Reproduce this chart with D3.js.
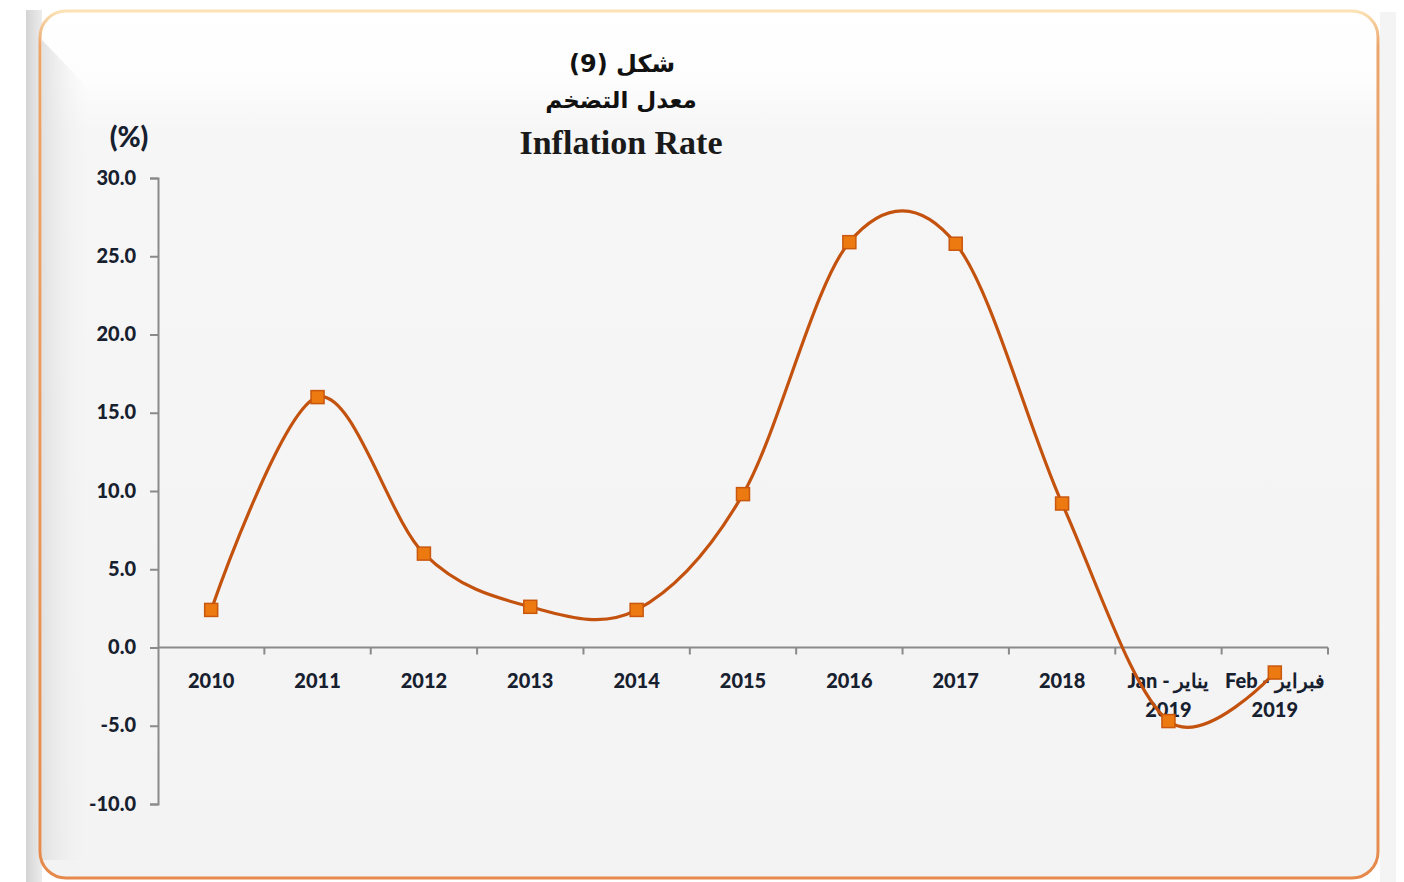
<!DOCTYPE html>
<html>
<head>
<meta charset="utf-8">
<script src="https://cdn.jsdelivr.net/npm/d3@7"></script>
<style>
  html, body { margin: 0; padding: 0; background: #ffffff; }
  svg { display: block; }
</style>
</head>
<body>
<svg id="chart" width="1404" height="882"></svg>
<script>
const categories = ["2010","2011","2012","2013","2014","2015","2016","2017","2018","Jan - يناير|2019","Feb - فبراير|2019"];
const inflation = [2.4, 16.0, 6.0, 2.6, 2.4, 9.8, 25.9, 25.8, 9.2, -4.7, -1.6];
const yTicks = [30, 25, 20, 15, 10, 5, 0, -5, -10];
const titleLines = ["شكل (9)", "معدل التضخم", "Inflation Rate"];
const yUnit = "(%)";

const svg = d3.select("#chart");
const defs = svg.append("defs");

// Background gradients
const bg = defs.append("linearGradient").attr("id","bgGrad").attr("x1",0).attr("y1",0).attr("x2",0).attr("y2",1);
bg.append("stop").attr("offset","0%").attr("stop-color","#ffffff");
bg.append("stop").attr("offset","8%").attr("stop-color","#fdfdfd");
bg.append("stop").attr("offset","14%").attr("stop-color","#f6f6f6");
bg.append("stop").attr("offset","100%").attr("stop-color","#f3f3f3");

const leftShade = defs.append("linearGradient").attr("id","leftShade").attr("x1",0).attr("y1",0).attr("x2",1).attr("y2",0);
leftShade.append("stop").attr("offset","0%").attr("stop-color","#e2e2e2").attr("stop-opacity",1);
leftShade.append("stop").attr("offset","100%").attr("stop-color","#f3f3f3").attr("stop-opacity",0);

const outerShade = defs.append("linearGradient").attr("id","outerShade").attr("x1",0).attr("y1",0).attr("x2",1).attr("y2",0);
outerShade.append("stop").attr("offset","0%").attr("stop-color","#d4d4d4");
outerShade.append("stop").attr("offset","100%").attr("stop-color","#ececec");

const borderGrad = defs.append("linearGradient").attr("id","borderGrad").attr("x1",0).attr("y1",0).attr("x2",0).attr("y2",1);
borderGrad.append("stop").attr("offset","0%").attr("stop-color","#fbe2b5");
borderGrad.append("stop").attr("offset","4%").attr("stop-color","#eba46a");
borderGrad.append("stop").attr("offset","100%").attr("stop-color","#e58a4c");

// Outer gray shadow strip on left and right
svg.append("rect").attr("x",26).attr("y",10).attr("width",16).attr("height",872).attr("fill","url(#outerShade)");
svg.append("rect").attr("x",1380).attr("y",12).attr("width",16).attr("height",870).attr("fill","#f4f4f4");

// Panel
svg.append("rect").attr("x",40).attr("y",11).attr("width",1338).attr("height",867)
  .attr("rx",26).attr("ry",26).attr("fill","url(#bgGrad)");
svg.append("path").attr("d","M42,40 L90,90 L90,860 L42,860 Z")
  .attr("fill","url(#leftShade)");
svg.append("rect").attr("x",40).attr("y",11).attr("width",1338).attr("height",867)
  .attr("rx",26).attr("ry",26).attr("fill","none")
  .attr("stroke","url(#borderGrad)").attr("stroke-width",3);

// Scales
const plot = {left:158, right:1328, top:178, bottom:804};
const y = d3.scaleLinear().domain([-10, 30]).range([plot.bottom, plot.top]);
const x = d3.scaleBand().domain(categories).range([plot.left, plot.right]).padding(0);

const axisColor = "#8a8a8a";
const labelColor = "#17202e";
const labelFont = "Lato, 'Open Sans', sans-serif";
const fmt = d3.formatLocale({decimal:".", thousands:",", grouping:[3], currency:["",""], minus:"-"}).format(".1f");

// Y axis
const yAxis = d3.axisLeft(y).tickValues(yTicks).tickSize(8).tickPadding(14)
  .tickFormat(d => fmt(d));
const gy = svg.append("g").attr("transform",`translate(${plot.left},0)`).call(yAxis);
gy.select(".domain").attr("stroke",axisColor).attr("stroke-width",2);
gy.selectAll(".tick line").attr("stroke",axisColor).attr("stroke-width",2);
gy.selectAll(".tick text").attr("fill",labelColor).attr("font-family",labelFont)
  .attr("font-weight",900).attr("font-size",20).attr("dy","0.3em");

// X axis at y=0
const y0 = y(0);
svg.append("line").attr("x1",plot.left).attr("x2",plot.right).attr("y1",y0).attr("y2",y0)
  .attr("stroke",axisColor).attr("stroke-width",2);
const boundaries = categories.map(c => x(c)).concat([plot.right]).slice(1);
svg.append("g").selectAll("line").data(boundaries).join("line")
  .attr("x1",d=>d).attr("x2",d=>d).attr("y1",y0).attr("y2",y0+7)
  .attr("stroke",axisColor).attr("stroke-width",2);

// X labels
const xl = svg.append("g").selectAll("text").data(categories).join("text")
  .attr("x", d => x(d) + x.bandwidth()/2)
  .attr("y", 688)
  .attr("text-anchor","middle")
  .attr("fill",labelColor).attr("font-family",labelFont)
  .attr("font-weight",900).attr("font-size",20)
  .attr("direction","ltr");
xl.each(function(d){
  const parts = d.split("|");
  const t = d3.select(this);
  parts.forEach((p,i) => {
    t.append("tspan").attr("x", x(d) + x.bandwidth()/2).attr("dy", i===0?0:29).text(p);
  });
});

// Line
const line = d3.line()
  .x((d,i) => x(categories[i]) + x.bandwidth()/2)
  .y(d => y(d))
  .curve(d3.curveCardinal.tension(0));
svg.append("path").datum(inflation).attr("d",line)
  .attr("fill","none").attr("stroke","#c4520f").attr("stroke-width",3.2);

// Markers
const ms = 13;
svg.append("g").selectAll("rect").data(inflation).join("rect")
  .attr("x",(d,i) => x(categories[i]) + x.bandwidth()/2 - ms/2)
  .attr("y",d => y(d) - ms/2)
  .attr("width",ms).attr("height",ms)
  .attr("fill","#ec7a10").attr("stroke","#c9570e").attr("stroke-width",1.5);

// Titles
svg.append("text").attr("x",622).attr("y",72).attr("text-anchor","middle")
  .attr("font-family","'DejaVu Sans', 'Noto Sans', sans-serif").attr("font-weight","bold")
  .attr("font-size",24).attr("fill","#111").text(titleLines[0]);
svg.append("text").attr("x",621).attr("y",108).attr("text-anchor","middle")
  .attr("font-family","'DejaVu Sans', 'Noto Sans', sans-serif").attr("font-weight","bold")
  .attr("font-size",23).attr("fill","#111").text(titleLines[1]);
svg.append("text").attr("x",621).attr("y",154).attr("text-anchor","middle")
  .attr("font-family","'Liberation Serif', 'Times New Roman', serif").attr("font-weight","bold")
  .attr("font-size",34).attr("fill","#1a1a1a").text(titleLines[2]);

// Unit
svg.append("text").attr("x",129).attr("y",147).attr("text-anchor","middle")
  .attr("font-family",labelFont).attr("font-weight",900)
  .attr("font-size",28).attr("fill",labelColor).text(yUnit);
</script>
</body>
</html>
